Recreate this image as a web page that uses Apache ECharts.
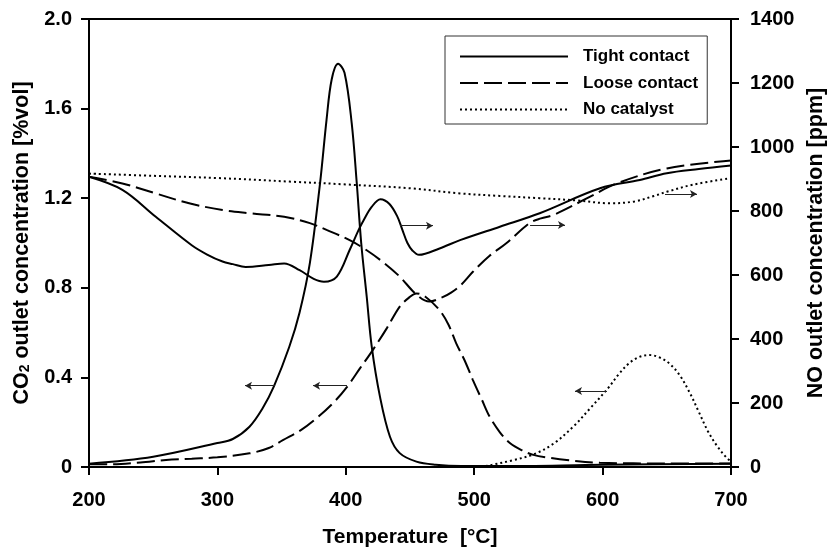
<!DOCTYPE html>
<html>
<head>
<meta charset="utf-8">
<script src="https://cdn.jsdelivr.net/npm/echarts@6/dist/echarts.min.js"></script>
<style>
html,body{margin:0;padding:0;background:#fff;}
#chart{width:829px;height:551px;}
</style>
</head>
<body>
<div id="chart"></div>
<script>
// ---- Data ----
const seriesNames = ['Tight contact', 'Loose contact', 'No catalyst'];

const xTicks = [200, 300, 400, 500, 600, 700];
const co2Ticks = [0, 0.4, 0.8, 1.2, 1.6, 2.0];
const noTicks = [0, 200, 400, 600, 800, 1000, 1200, 1400];

// CO2 outlet concentration [%vol] (left axis)
const tightCO2T = [200, 250, 300, 312, 325, 335, 344, 356, 364, 372, 380, 385, 389, 394, 399, 404.6, 408.5, 412, 416.3, 420.2, 426.6, 434.4, 442, 455, 470, 490, 520, 600, 700];
const tightCO2  = [0.015, 0.046, 0.107, 0.125, 0.18, 0.26, 0.36, 0.537, 0.69, 0.91, 1.27, 1.55, 1.73, 1.80, 1.76, 1.535, 1.27, 1.0, 0.76, 0.537, 0.314, 0.135, 0.062, 0.024, 0.01, 0.004, 0.004, 0.01, 0.015];

const looseCO2T = [200, 216, 240, 260, 280, 300, 325, 340, 351, 365, 377, 390, 401, 411, 421, 432, 442, 449, 455, 462, 473, 480, 486, 493, 499, 506, 512, 520, 528, 537, 546, 560, 572, 598, 650, 700];
const looseCO2  = [0.012, 0.012, 0.02, 0.031, 0.037, 0.043, 0.061, 0.085, 0.12, 0.165, 0.217, 0.285, 0.358, 0.44, 0.522, 0.62, 0.716, 0.755, 0.775, 0.76, 0.70, 0.635, 0.552, 0.47, 0.388, 0.30, 0.225, 0.155, 0.106, 0.075, 0.054, 0.04, 0.031, 0.019, 0.016, 0.016];

const noCatCO2T = [505, 514, 530, 546, 562, 578, 590, 604, 612, 620, 628, 636, 644, 652, 660, 668, 675, 682, 689, 696, 700];
const noCatCO2  = [0.0, 0.01, 0.03, 0.056, 0.105, 0.185, 0.26, 0.35, 0.41, 0.46, 0.49, 0.5, 0.49, 0.462, 0.41, 0.33, 0.245, 0.16, 0.095, 0.045, 0.025];

// NO outlet concentration [ppm] (right axis)
const tightNOT = [200, 226, 252, 280, 292, 304, 312, 322, 340, 352, 364, 375, 383, 393, 403, 410, 414, 420, 427, 434, 440, 444, 448, 452, 457, 473, 489, 520, 551, 598, 629, 650, 675, 700];
const tightNO  = [907, 866, 782, 693, 664, 642, 634, 625, 631, 636, 615, 588, 579, 595, 678, 741, 772, 812, 837, 822, 784, 742, 700, 676, 663, 683, 709, 751, 793, 871, 897, 918, 931, 942];

const looseNOT = [200, 226, 252, 278, 304, 325, 352, 372, 385, 403, 416, 430, 442, 455, 465, 475, 482, 490, 499, 512, 525, 543, 552, 562, 588, 611, 650, 700];
const looseNO  = [907, 886, 855, 824, 803, 793, 782, 762, 741, 709, 678, 637, 595, 539, 517, 530, 545, 570, 610, 660, 699, 762, 777, 788, 840, 886, 933, 958];

const noCatNOT = [200, 250, 300, 356, 400, 450, 489, 520, 551, 580, 606, 625, 640, 650, 670, 700];
const noCatNO  = [917, 910, 903, 892, 883, 871, 855, 847, 840, 833, 824, 830, 847, 860, 882, 903];

// Arrow annotations: [fromT, toT, value]
const co2Arrows = [[344.9, 321.5, 0.363], [400.9, 374.5, 0.363], [603.4, 578.5, 0.339]];
const noArrows  = [[442.2, 467.9, 754], [543.5, 570.7, 756], [648.6, 673.5, 853]];

// ---- Build chart ----
const FONT = '"Liberation Sans", Arial, sans-serif';
const zip = (xs, ys) => xs.map((x, i) => [x, ys[i]]);
const styles = [
  { type: 'solid', width: 2 },
  { type: [18, 6], width: 2 },
  { type: [2, 3], width: 2 }
];
const co2Data = [zip(tightCO2T, tightCO2), zip(looseCO2T, looseCO2), zip(noCatCO2T, noCatCO2)];
const noData = [zip(tightNOT, tightNO), zip(looseNOT, looseNO), zip(noCatNOT, noCatNO)];

function arrowMark(arr) {
  return {
    silent: true,
    symbol: ['none', 'arrow'],
    symbolSize: [6, 7],
    label: { show: false },
    lineStyle: { color: '#222', width: 1, type: 'solid' },
    emphasis: { disabled: true },
    data: arr.map(a => [{ coord: [a[0], a[2]] }, { coord: [a[1], a[2]] }])
  };
}

const series = [];
seriesNames.forEach((name, i) => {
  series.push({
    name: name, type: 'line', xAxisIndex: 0, yAxisIndex: 0,
    data: co2Data[i], showSymbol: false, symbol: 'none', smooth: 0.35,
    lineStyle: Object.assign({ color: '#000' }, styles[i]),
    itemStyle: { color: '#000' },
    markLine: i === 0 ? arrowMark(co2Arrows) : undefined,
    z: 3
  });
  series.push({
    name: name, type: 'line', xAxisIndex: 0, yAxisIndex: 1,
    data: noData[i], showSymbol: false, symbol: 'none', smooth: 0.35,
    lineStyle: Object.assign({ color: '#000' }, styles[i]),
    itemStyle: { color: '#000' },
    markLine: i === 0 ? arrowMark(noArrows) : undefined,
    z: 3
  });
});

const axisCommon = {
  axisLine: { show: true, lineStyle: { color: '#000', width: 2 } },
  axisTick: { show: true, inside: false, length: 8, lineStyle: { color: '#000', width: 2 } },
  splitLine: { show: false },
  axisLabel: { color: '#000', fontFamily: FONT, fontWeight: 'bold', fontSize: 20 },
  nameTextStyle: { color: '#000', fontFamily: FONT, fontWeight: 'bold', fontSize: 21 }
};

const option = {
  animation: false,
  backgroundColor: '#fff',
  grid: { left: 89, right: 98, top: 19, bottom: 84, show: true, borderColor: '#000', borderWidth: 2, backgroundColor: 'transparent', outerBoundsMode: 'none', containLabel: false },
  legend: {
    data: seriesNames,
    orient: 'vertical',
    left: 445, top: 36,
    itemWidth: 108, itemHeight: 14, itemGap: 9.5,
    padding: [12, 9, 6, 14],
    borderColor: '#333', borderWidth: 1,
    backgroundColor: '#fff',
    itemStyle: { opacity: 0 },
    textStyle: { color: '#000', fontFamily: FONT, fontWeight: 'bold', fontSize: 17, padding: [0, 0, 0, 10] }
  },
  xAxis: Object.assign({}, axisCommon, {
    type: 'value', min: xTicks[0], max: xTicks[xTicks.length - 1], interval: 100,
    name: 'Temperature  [°C]', nameLocation: 'middle', nameGap: 60,
    axisLabel: Object.assign({}, axisCommon.axisLabel, { margin: 23 })
  }),
  yAxis: [
    Object.assign({}, axisCommon, {
      type: 'value', position: 'left', min: co2Ticks[0], max: co2Ticks[co2Ticks.length - 1], interval: 0.4,
      name: '{n|CO}{s|2}{n| outlet concentration [%vol]}', nameLocation: 'middle', nameGap: 53, nameRotate: 90,
      nameTextStyle: {
        color: '#000', fontFamily: FONT, fontWeight: 'bold', fontSize: 21,
        rich: {
          n: { fontFamily: FONT, fontWeight: 'bold', fontSize: 21.5, lineHeight: 21, verticalAlign: 'top', color: '#000' },
          s: { fontFamily: FONT, fontWeight: 'bold', fontSize: 14, lineHeight: 14, padding: [11, 0, 0, 0], verticalAlign: 'bottom', color: '#000' }
        }
      },
      axisLabel: Object.assign({}, axisCommon.axisLabel, { margin: 17, formatter: v => v === 0 ? '0' : v.toFixed(1) })
    }),
    Object.assign({}, axisCommon, {
      type: 'value', position: 'right', min: noTicks[0], max: noTicks[noTicks.length - 1], interval: 200,
      name: 'NO outlet concentration [ppm]', nameLocation: 'middle', nameGap: 73, nameRotate: 90,
      nameTextStyle: { color: '#000', fontFamily: FONT, fontWeight: 'bold', fontSize: 21.5 },
      axisLabel: Object.assign({}, axisCommon.axisLabel, { margin: 19, formatter: v => String(v) })
    })
  ],
  series: series
};

const chart = echarts.init(document.getElementById('chart'), null, { renderer: 'canvas' });
chart.setOption(option);
</script>
</body>
</html>
